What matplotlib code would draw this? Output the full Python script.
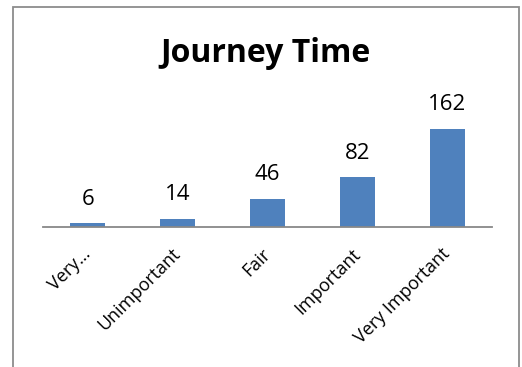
import matplotlib.pyplot as plt
from matplotlib.patches import Rectangle
import matplotlib.transforms as mtransforms

plt.rcParams['font.family'] = ['Open Sans', 'DejaVu Sans']

# data
categories = ['Very…', 'Unimportant', 'Fair', 'Important', 'Very Important']
counts = [6, 14, 46, 82, 162]

W, H = 522, 367
fig = plt.figure(figsize=(W / 100, H / 100), dpi=100)

# outer chart border (runs off the bottom of the picture)
fig.patches.append(Rectangle((13 / W, -0.05), (519 - 13) / W, 1 - 7 / H + 0.05,
                             transform=fig.transFigure, fill=False,
                             edgecolor='#8c8c8c', linewidth=1.3))

ax = fig.add_axes([43 / W, 1 - 227 / H, (492 - 43) / W, (227 - 118) / H])
x = range(len(categories))
bars = ax.bar(x, counts, width=0.39, color='#4f81bd')
ax.set_xlim(-0.5, len(categories) - 0.5)
ax.set_ylim(0, 180)

for spine in ['top', 'right', 'left']:
    ax.spines[spine].set_visible(False)
ax.spines['bottom'].set_color('#888888')
ax.spines['bottom'].set_linewidth(1.3)
ax.set_yticks([])
ax.tick_params(axis='x', length=0, pad=0)

for b, v in zip(bars, counts):
    ax.annotate(str(v), (b.get_x() + b.get_width() / 2, v), xytext=(0, 13.5),
                textcoords='offset points', ha='center', va='baseline',
                fontsize=16, color='#000000')

ax.set_xticks(list(x))
ax.set_xticklabels(categories, rotation=45, ha='right', va='top',
                   rotation_mode='anchor', fontsize=13)
offset = mtransforms.ScaledTranslation(-6 / 100, -18 / 100, fig.dpi_scale_trans)
for lbl in ax.get_xticklabels():
    lbl.set_transform(lbl.get_transform() + offset)

fig.text(266 / W, 1 - 62 / H, 'Journey Time', ha='center', va='baseline',
         fontsize=23, fontweight='bold')

fig.savefig('out.png', dpi=100)
